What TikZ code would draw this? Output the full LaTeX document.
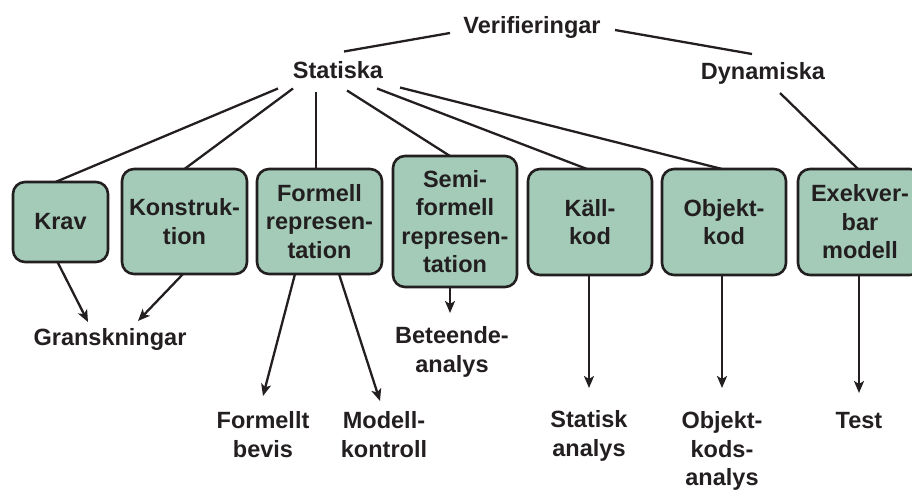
\documentclass[tikz,border=0pt]{standalone}
\usepackage{fontspec}
\setmainfont{Liberation Sans}
\usetikzlibrary{arrows.meta,calc}
\definecolor{boxgreen}{RGB}{163,203,184}
\definecolor{ink}{RGB}{35,31,32}
\begin{document}
\begin{tikzpicture}[x=1pt,y=-1pt,
  lbl/.style={font=\fontsize{23.5}{28.5}\selectfont\bfseries, text=ink,
              align=center, inner sep=0pt, outer sep=0pt},
  stagebox/.style={lbl, draw=ink, line width=2.6pt, fill=boxgreen,
              rounded corners=12pt},
  link/.style={draw=ink, line width=2.3pt},
  flow/.style={link, -{Stealth[length=12pt,width=10pt,inset=3pt]}}
]
\useasboundingbox (0,0) rectangle (912,490);

% top levels
\node[lbl] (ver)  at (532,27)  {Verifieringar};
\node[lbl] (stat) at (338,70.5) {Statiska};
\node[lbl] (dyn)  at (763,73)  {Dynamiska};

% artefact boxes
\node[stagebox, minimum width=95pt,  minimum height=80pt]  (krav)  at (60.5,222)  {Krav};
\node[stagebox, minimum width=125pt, minimum height=105pt] (konst) at (184.5,221.5) {Konstruk-\\tion};
\node[stagebox, minimum width=125pt, minimum height=105pt] (form)  at (319.5,221.5) {Formell\\represen-\\tation};
\node[stagebox, minimum width=124pt, minimum height=131pt] (semi)  at (455,221.5)   {Semi-\\formell\\represen-\\tation};
\node[stagebox, minimum width=124pt, minimum height=106pt] (kall)  at (590,222)     {Käll-\\kod};
\node[stagebox, minimum width=124pt, minimum height=106pt] (obj)   at (724,222)     {Objekt-\\kod};
\node[stagebox, minimum width=124pt, minimum height=106pt] (exek)  at (860,222)     {Exekver-\\bar\\modell};

% verification methods
\node[lbl] (gran) at (110,339)   {Granskningar};
\node[lbl] (fbev) at (263,434.5) {Formellt\\bevis};
\node[lbl] (mkon) at (384,434.5) {Modell-\\kontroll};
\node[lbl] (bete) at (452,352)   {Beteende-\\analys};
\node[lbl] (stan) at (589,436)   {Statisk\\analys};
\node[lbl] (okan) at (722,451)   {Objekt-\\kods-\\analys};
\node[lbl] (test) at (859,421)   {Test};

% hierarchy lines
\draw[link] ($(ver.center)+(-82,6)$) -- ($(stat.center)+(6,-19)$);
\draw[link] ($(ver.center)+(83,3)$)  -- ($(dyn.center)+(-11,-19)$);

\draw[link] ($(stat.center)+(-60,18)$) -- ($(krav.north)+(-5,0)$);
\draw[link] ($(stat.center)+(-45,18)$) -- (konst.north);
\draw[link] ($(stat.center)+(-22,21)$) -- ($(form.north)+(-3.5,0)$);
\draw[link] ($(stat.center)+(9,20)$)   -- ($(semi.north)+(-5,0)$);
\draw[link] ($(stat.center)+(39,18)$)  -- ($(kall.north)+(-3,0)$);
\draw[link] ($(stat.center)+(62,17)$)  -- ($(obj.north)+(-2,0)$);
\draw[link] ($(dyn.center)+(17,20)$)   -- ($(exek.north)+(-2,0)$);

% method arrows
\draw[flow] ($(krav.south)+(-3,0)$)   -- ($(gran.center)+(-22,-17)$);
\draw[flow] ($(konst.south)+(-1.5,0)$) -- ($(gran.center)+(28,-18)$);
\draw[flow] ($(form.south)+(-24.5,0)$) -- ($(fbev.center)+(0,-38.5)$);
\draw[flow] ($(form.south)+(19.5,0)$)  -- ($(mkon.center)+(-4,-33.5)$);
\draw[flow] ($(semi.south)+(-5,0)$)    -- ($(bete.center)+(-2,-39)$);
\draw[flow] ($(kall.south)+(-1,0)$)    -- ($(stan.center)+(0,-48)$);
\draw[flow] ($(obj.south)+(-2,0)$)     -- ($(okan.center)+(0,-63)$);
\draw[flow] ($(exek.south)+(-1,0)$)    -- ($(test.center)+(0,-28)$);
\end{tikzpicture}
\end{document}
